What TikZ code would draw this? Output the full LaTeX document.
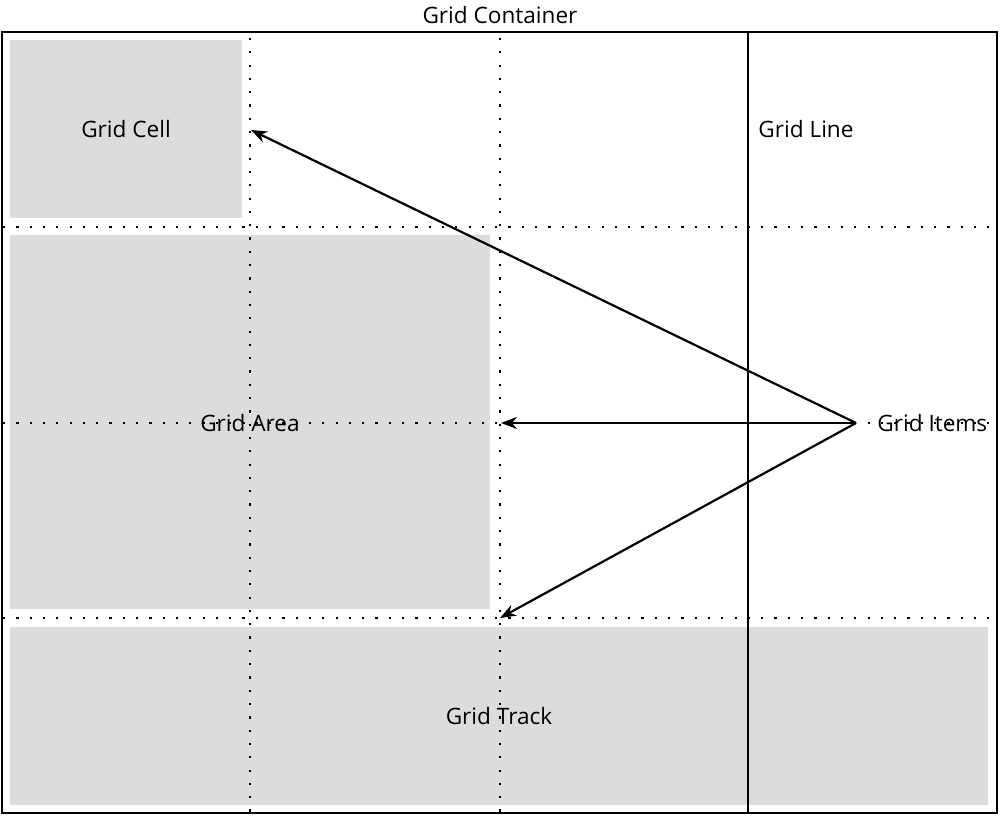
\documentclass[tikz,border=0pt]{standalone}
\usepackage{fontspec}
\setmainfont{Open Sans}
\usetikzlibrary{arrows.meta}

\definecolor{cellgray}{RGB}{220,220,220}
\tikzset{
	dotline/.style={line width=1.2pt, dash pattern=on 1.1pt off 5.55pt},
	pointer/.style={line width=1.1pt, -{Stealth[length=8pt,width=6pt]}},
}

\begin{document}
\begin{tikzpicture}[x=0.5pt,y=-0.5pt,font=\fontsize{11.3}{13}\selectfont]
			\useasboundingbox (0,0) rectangle (1001,817);
			
			% shaded cell, area and track
			\fill[cellgray] (10,40) rectangle (242,218);
			\fill[cellgray] (10,235) rectangle (490,609);
			\fill[cellgray] (10,627) rectangle (988,805);
			
			% grid lines
			\draw[dotline] (250,38) -- (250,813);
			\draw[dotline] (500,38) -- (500,813);
			\draw[dotline] (3,227) -- (997,227);
			\draw[dotline] (3,423) -- (997,423);
			\draw[dotline] (3,618) -- (997,618);
			\draw[line width=1.1pt] (748,32) -- (748,813);
			\draw[line width=1.3pt] (2,32) rectangle (997,813);
			
			\node (container) at (500,15) {Grid Container};
			\node (cell) at (126,129) {Grid Cell};
			\node (line) at (806,129) {Grid Line};
			\node (area) at (250,423) {Grid Area};
			\node (track) at (499,716) {Grid Track};
			\node (items) [anchor=west, inner xsep=10.5pt] at (856,423) {Grid Items};
			
			\coordinate (x1) at (251,130);
			\coordinate (x2) at (501,423);
			\coordinate (x3) at (500,618);
			
			\path (items.west) edge [pointer] (x1);
			\path (items.west) edge [pointer] (x2);
			\path (items.west) edge [pointer] (x3);
\end{tikzpicture}
\end{document}
